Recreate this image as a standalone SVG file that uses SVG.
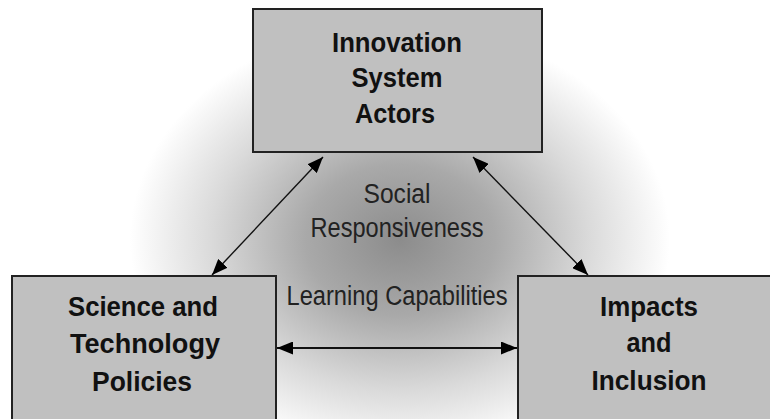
<svg xmlns="http://www.w3.org/2000/svg" width="770" height="419" viewBox="0 0 770 419">
<defs>
<radialGradient id="bg" cx="400" cy="240" r="270" gradientUnits="userSpaceOnUse" gradientTransform="translate(400 240) scale(1 0.8) translate(-400 -240)">
<stop offset="0" stop-color="#8c8c8c"/>
<stop offset="0.35" stop-color="#a9a9a9"/>
<stop offset="0.7" stop-color="#dadada"/>
<stop offset="1" stop-color="#ffffff"/>
</radialGradient>
<marker id="ah" viewBox="0 0 16 13" refX="16" refY="6.5" markerWidth="16" markerHeight="13" markerUnits="userSpaceOnUse" orient="auto-start-reverse">
<path d="M0,0 L16,6.5 L0,13 Z" fill="#000"/>
</marker>
<style>
.box{fill:#c0c0c0;stroke:#222;stroke-width:2}
.lbl{font-family:"Liberation Sans",Arial,sans-serif;font-weight:bold;font-size:27px;fill:#111;text-anchor:middle}
.mid{font-family:"Liberation Sans",Arial,sans-serif;font-size:27px;fill:#222;text-anchor:middle}
.con{stroke:#111;stroke-width:1.4;fill:none;marker-start:url(#ah);marker-end:url(#ah)}
</style>
</defs>
<rect x="0" y="0" width="770" height="419" fill="url(#bg)"/>
<g id="innovation">
<rect class="box" x="253" y="9" width="289" height="143"/>
<text class="lbl" x="397" y="52" textLength="130" lengthAdjust="spacingAndGlyphs">Innovation</text>
<text class="lbl" x="397" y="87" textLength="91" lengthAdjust="spacingAndGlyphs">System</text>
<text class="lbl" x="395" y="123" textLength="80" lengthAdjust="spacingAndGlyphs">Actors</text>
</g>
<g id="science">
<rect class="box" x="12" y="276" width="264" height="145"/>
<text class="lbl" x="143" y="316" textLength="150" lengthAdjust="spacingAndGlyphs">Science and</text>
<text class="lbl" x="145" y="353" textLength="150" lengthAdjust="spacingAndGlyphs">Technology</text>
<text class="lbl" x="142" y="391" textLength="100" lengthAdjust="spacingAndGlyphs">Policies</text>
</g>
<g id="impacts">
<rect class="box" x="518" y="276" width="260" height="145"/>
<text class="lbl" x="649" y="316" textLength="98" lengthAdjust="spacingAndGlyphs">Impacts</text>
<text class="lbl" x="649" y="352" textLength="45" lengthAdjust="spacingAndGlyphs">and</text>
<text class="lbl" x="649" y="390" textLength="115" lengthAdjust="spacingAndGlyphs">Inclusion</text>
</g>
<g id="labels">
<text class="mid" x="397" y="203" textLength="67" lengthAdjust="spacingAndGlyphs">Social</text>
<text class="mid" x="397" y="237" textLength="173" lengthAdjust="spacingAndGlyphs">Responsiveness</text>
<text class="mid" x="397" y="305" textLength="221" lengthAdjust="spacingAndGlyphs">Learning Capabilities</text>
</g>
<g id="connectors">
<line class="con" x1="323" y1="157" x2="212" y2="275"/>
<line class="con" x1="473" y1="157" x2="588" y2="275"/>
<line class="con" x1="277" y1="348" x2="517" y2="348" style="stroke-width:2"/>
</g>
</svg>
